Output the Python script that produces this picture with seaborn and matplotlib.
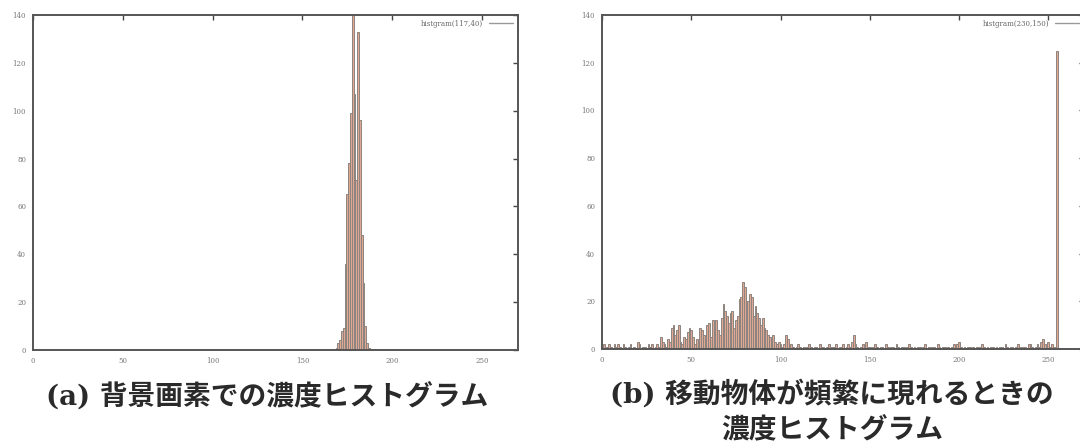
import numpy as np
import matplotlib
matplotlib.use("Agg")
from matplotlib import pyplot as plt
from matplotlib.lines import Line2D
import seaborn as sns

# (a) background pixel: gray levels with non-zero counts
bg_levels = [169, 170, 171, 172, 173, 174, 175, 176, 177, 178,
             179, 180, 181, 182, 183, 184, 185, 186, 187]
bg_counts = [1, 3, 4, 8, 9, 36, 65, 78, 99, 140,
             107, 71, 133, 96, 48, 28, 10, 3, 1]

# (b) moving objects appear often: counts for gray levels 0..255
mv_levels = list(range(256))
mv_counts = [1, 2, 0, 1, 2, 1, 0, 2, 1, 2,
             1, 0, 2, 1, 0, 1, 2, 0, 1, 0,
             3, 2, 0, 1, 1, 0, 2, 1, 2, 0,
             1, 2, 1, 5, 3, 2, 1, 4, 3, 9,
             10, 6, 8, 10, 3, 2, 5, 4, 7, 9,
             8, 5, 2, 4, 3, 9, 8, 6, 4, 10,
             11, 5, 12, 9, 12, 8, 6, 13, 19, 16,
             14, 11, 15, 16, 9, 12, 14, 21, 22, 28,
             26, 18, 20, 23, 22, 14, 18, 15, 13, 10,
             13, 9, 8, 6, 5, 4, 6, 3, 2, 3,
             2, 1, 2, 6, 4, 1, 2, 1, 0, 1,
             2, 1, 0, 1, 0, 1, 2, 1, 0, 1,
             1, 0, 2, 1, 1, 0, 1, 2, 0, 1,
             1, 2, 0, 1, 1, 2, 0, 1, 2, 1,
             3, 6, 2, 1, 0, 1, 2, 1, 3, 1,
             1, 0, 1, 2, 1, 0, 1, 1, 0, 2,
             1, 0, 1, 1, 0, 2, 1, 0, 1, 1,
             0, 1, 2, 1, 0, 1, 0, 1, 1, 0,
             1, 2, 0, 1, 0, 1, 1, 0, 2, 1,
             0, 1, 1, 0, 1, 0, 1, 2, 1, 2,
             3, 1, 0, 1, 0, 1, 1, 0, 1, 0,
             1, 1, 0, 2, 1, 0, 1, 0, 1, 1,
             0, 1, 0, 1, 1, 0, 2, 1, 0, 1,
             1, 0, 1, 2, 1, 0, 1, 1, 0, 2,
             2, 1, 0, 1, 2, 1, 3, 4, 2, 1,
             3, 1, 2, 1, 0, 125]

xticks = [0, 50, 100, 150, 200, 250]
yticks = [0, 20, 40, 60, 80, 100, 120, 140]
keys = ["histgram(117,40)", "histgram(230,150)"]
captions = ["(a) 背景画素での濃度ヒストグラム",
            "(b) 移動物体が頻繁に現れるときの",
            "濃度ヒストグラム"]

sns.set_theme(style="white")
plt.rcParams['font.family'] = ['DejaVu Serif', 'Noto Sans CJK JP']

fig = plt.figure(figsize=(10.8, 4.48), dpi=100)
ax1 = fig.add_axes([33 / 1080, 98 / 448, 485 / 1080, 335 / 448])
ax2 = fig.add_axes([602 / 1080, 99 / 448, 482 / 1080, 334 / 448])

fill = "#dfa893"
edge = "#8c8480"

for ax, lv, ct, key in [(ax1, bg_levels, bg_counts, keys[0]),
                        (ax2, mv_levels, mv_counts, keys[1])]:
    sns.histplot(x=lv, weights=ct, discrete=True, ax=ax, color=fill,
                 edgecolor=edge, linewidth=0.7, alpha=1)
    ax.set_xlim(0, 270)
    ax.set_ylim(0, 140)
    ax.set_xticks(xticks)
    ax.set_yticks(yticks)
    ax.set_xlabel('')
    ax.set_ylabel('')
    ax.tick_params(direction='in', top=True, right=True, length=3.5,
                   width=1, color='#444', labelsize=5, labelcolor='#777',
                   pad=5)
    for s in ax.spines.values():
        s.set_linewidth(1.4)
        s.set_color('#555')
    ax.legend(handles=[Line2D([], [], color='#999', lw=1)], labels=[key],
              loc='upper right', frameon=False, fontsize=5,
              markerfirst=False, handlelength=3.5, borderaxespad=0.3,
              labelcolor='#666')

fig.text(267 / 1080, 1 - 396 / 448, captions[0], ha='center', va='center',
         fontsize=20, weight='bold', color='#2a2a2a')
fig.text(832 / 1080, 1 - 394 / 448, captions[1], ha='center', va='center',
         fontsize=20, weight='bold', color='#2a2a2a')
fig.text(832 / 1080, 1 - 430 / 448, captions[2], ha='center', va='center',
         fontsize=20, weight='bold', color='#2a2a2a')

fig.savefig("out.png", dpi=100)
